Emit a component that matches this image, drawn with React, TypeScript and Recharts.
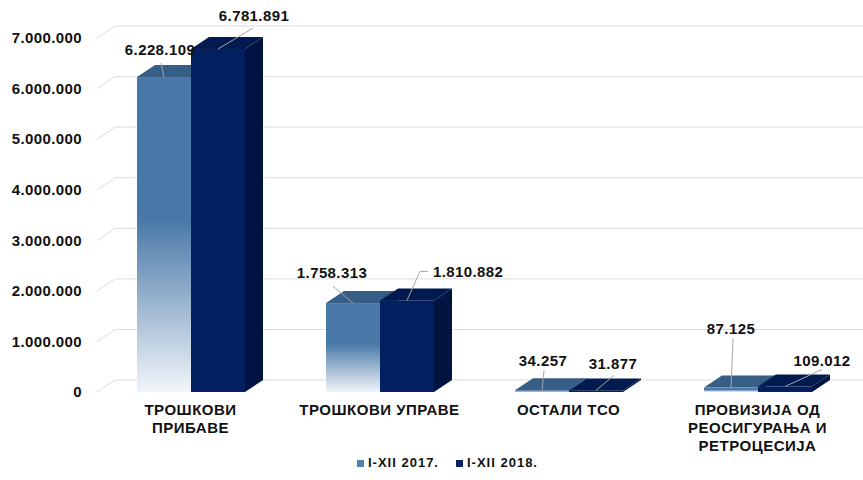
import React from "react";
import { BarChart, Bar, XAxis, YAxis, CartesianGrid, Legend, LabelList } from "recharts";

// категорије и вредности (I-XII 2017 / I-XII 2018)
const categories = [
  "ТРОШКОВИ\nПРИБАВЕ",
  "ТРОШКОВИ УПРАВЕ",
  "ОСТАЛИ ТСО",
  "ПРОВИЗИЈА ОД\nРЕОСИГУРАЊА И\nРЕТРОЦЕСИЈА",
];
const values2017 = [6228109, 1758313, 34257, 87125];
const values2018 = [6781891, 1810882, 31877, 109012];
const yTicks = [0, 1000000, 2000000, 3000000, 4000000, 5000000, 6000000, 7000000];
const seriesNames = ["I-XII 2017.", "I-XII 2018."];

const data = categories.map((name, i) => ({ name, v2017: values2017[i], v2018: values2018[i] }));

// 3D depth of the bars and grid
const DX = 18;
const DY = 12;
const FONT = "'Liberation Sans', Arial, sans-serif";

// leader line points + text position, relative to the bar's front top centre
type LabelPos = { line: [number, number][]; tx: number; ty: number; anchor: "middle" | "start" };
const labels2017: LabelPos[] = [
  { line: [[-3, -14]], tx: -4, ty: -27, anchor: "middle" },
  { line: [[-20, -17]], tx: -21, ty: -30, anchor: "middle" },
  { line: [[2, -20]], tx: 1, ty: -30, anchor: "middle" },
  { line: [[2, -49]], tx: 0, ty: -59, anchor: "middle" },
];
const labels2018: LabelPos[] = [
  { line: [[35, -21]], tx: 36, ty: -33, anchor: "middle" },
  { line: [[13, -29], [21, -29]], tx: 26, ty: -29, anchor: "start" },
  { line: [[18, -15]], tx: 17, ty: -27, anchor: "middle" },
  { line: [[37, -17]], tx: 37, ty: -26, anchor: "middle" },
];

const fmt = (v: number) => String(v).replace(/\B(?=(\d{3})+(?!\d))/g, ".");

function make3D(front: string, top: string, side: string) {
  return (props: any) => {
    const { x, y, width, height } = props;
    const x2 = x + width;
    const yb = y + height;
    return (
      <g>
        <path d={`M${x2},${y} L${x2 + DX},${y - DY} L${x2 + DX},${yb - DY} L${x2},${yb} Z`} fill={side} />
        <path d={`M${x},${y} L${x + DX},${y - DY} L${x2 + DX},${y - DY} L${x2},${y} Z`} fill={top} />
        <rect x={x} y={y} width={width} height={Math.max(height, 0.5)} fill={front} />
      </g>
    );
  };
}

function drawLabel(cx: number, cy: number, p: LabelPos, value: number) {
  const pts = [[0, 0], ...p.line].map(([a, b]) => `${cx + a},${cy + b}`).join(" ");
  return (
    <g>
      <polyline points={pts} fill="none" stroke="#a6a6a6" strokeWidth={1} />
      <text
        x={cx + p.tx}
        y={cy + p.ty}
        dy="0.36em"
        textAnchor={p.anchor}
        fontFamily={FONT}
        fontWeight="bold"
        fontSize={15}
        letterSpacing={0.4}
        fill="#111"
      >
        {fmt(value)}
      </text>
    </g>
  );
}

// labels are drawn from the 2018 series so they sit above every bar;
// the 2017 bar is the one just left of it, its top taken from the same scale
const label2018 = (props: any) => {
  const { x, y, width, value } = props;
  const index = props.index ?? values2018.indexOf(Number(value));
  const p = labels2018[index];
  if (!p) return null;
  return drawLabel(Number(x) + Number(width) / 2, Number(y), p, Number(value));
};

const label2017 = (props: any) => {
  const { x, y, width, height, value } = props;
  const index = props.index ?? values2017.indexOf(Number(value));
  const p = labels2017[index];
  if (!p) return null;
  const base = Number(y) + Number(height);
  const pxPerUnit = Number(height) / values2018[index];
  const top = base - Number(value) * pxPerUnit;
  return drawLabel(Number(x) - Number(width) / 2, top, p, Number(value));
};

const gridLine = (p: any) => {
  const { x1, y1, x2 } = p;
  return (
    <path
      key={p.key ?? `grid-${p.index}`}
      d={`M${x1 + 1},${y1} L${x1 + 1 + DX},${y1 - DY} L${x2 + 11},${y1 - DY}`}
      stroke="#dcdcdc"
      strokeWidth={1}
      fill="none"
    />
  );
};

const CategoryTick = (props: any) => {
  const { x, y, payload } = props;
  const lines = String(payload.value).split("\n");
  return (
    <text
      x={x}
      y={y + 23}
      textAnchor="middle"
      fontFamily={FONT}
      fontWeight="bold"
      fontSize={15}
      letterSpacing={0.5}
      fill="#111"
    >
      {lines.map((l, i) => (
        <tspan key={i} x={x} dy={i === 0 ? 0 : 18}>
          {l}
        </tspan>
      ))}
    </text>
  );
};

const LegendContent = () => (
  <div style={{ position: "relative", height: 24, width: 863, fontFamily: FONT }}>
    {[
      { left: 357, color: "#4f80b0" },
      { left: 456, color: "#0a2362" },
    ].map((it, i) => (
      <div key={i} style={{ position: "absolute", left: it.left, top: 8, display: "flex", alignItems: "center" }}>
        <span style={{ display: "inline-block", width: 7, height: 7, background: it.color, marginRight: 4 }} />
        <span style={{ fontSize: 13, fontWeight: "bold", letterSpacing: 1, color: "#111", lineHeight: "8px" }}>
          {seriesNames[i]}
        </span>
      </div>
    ))}
  </div>
);

export default function App() {
  return (
    <div style={{ position: "absolute", left: 0, top: 0, width: 863, height: 480, background: "#fff" }}>
      <BarChart
        width={863}
        height={480}
        data={data}
        margin={{ top: 38, right: 11, left: 0, bottom: 5 }}
        barSize={54}
        barGap={0}
      >
        <defs>
          <linearGradient id="grad2017" x1="0" y1="0" x2="0" y2="1">
            <stop offset="0" stopColor="#4878a8" />
            <stop offset="0.45" stopColor="#4878a8" />
            <stop offset="1" stopColor="#f1f5f9" />
          </linearGradient>
        </defs>
        <CartesianGrid vertical={false} horizontal={gridLine} />
        <XAxis
          dataKey="name"
          height={59}
          interval={0}
          tickLine={false}
          axisLine={false}
          tickSize={0}
          tickMargin={0}
          tick={<CategoryTick />}
        />
        <YAxis
          width={96}
          type="number"
          domain={[0, 7000000]}
          ticks={yTicks}
          tickFormatter={fmt}
          tickLine={false}
          axisLine={false}
          tickSize={0}
          tickMargin={14}
          tick={{ fontFamily: FONT, fontWeight: "bold", fontSize: 15, fill: "#111", letterSpacing: 0.4 }}
        />
        <Legend verticalAlign="bottom" height={24} wrapperStyle={{ left: 0, width: 863 }} content={<LegendContent />} />
        <Bar
          dataKey="v2017"
          name={seriesNames[0]}
          isAnimationActive={false}
          shape={make3D("url(#grad2017)", "#375e86", "#2d5179")}
        />
        <Bar
          dataKey="v2018"
          name={seriesNames[1]}
          isAnimationActive={false}
          shape={make3D("#02205f", "#011b50", "#011340")}
        >
          <LabelList dataKey="v2017" content={label2017} />
          <LabelList dataKey="v2018" content={label2018} />
        </Bar>
      </BarChart>
    </div>
  );
}
